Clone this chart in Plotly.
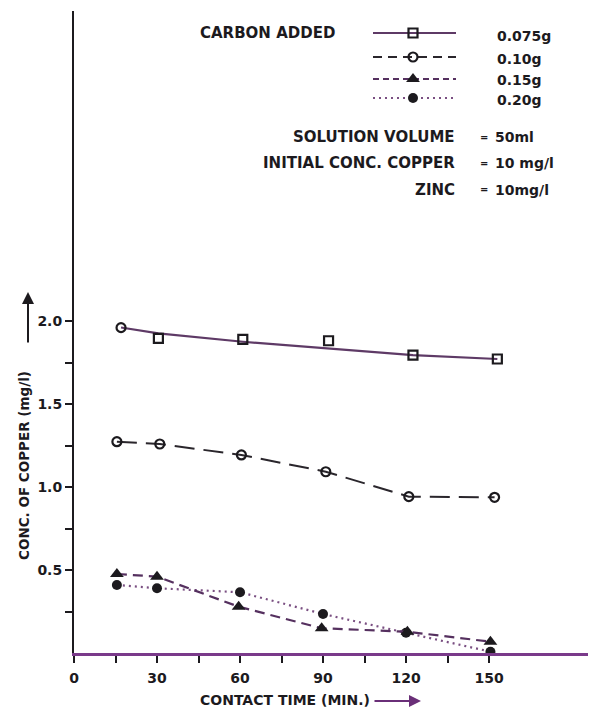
import plotly.graph_objects as go

# ---------------- data ----------------
time_075 = [17, 30.5, 61, 92, 122.5, 153]
cu_075 = [1.96, 1.895, 1.889, 1.881, 1.795, 1.771]
fit_075 = [1.961, 1.925, 1.875, 1.835, 1.795, 1.771]
symbols_075 = ["circle-open", "square-open", "square-open", "square-open", "square-open", "square-open"]

time_010 = [15.5, 31, 60.5, 91, 121, 152]
cu_010 = [1.273, 1.259, 1.193, 1.092, 0.942, 0.938]

time_015 = [15.5, 30, 59.5, 89.5, 120.5, 150.5]
cu_015 = [0.476, 0.46, 0.279, 0.149, 0.128, 0.068]

time_020 = [15.5, 30, 60, 90, 120, 150.5]
cu_020 = [0.41, 0.39, 0.366, 0.235, 0.122, 0.008]

x_tickvals = [0, 15, 30, 45, 60, 75, 90, 105, 120, 135, 150]
x_ticktext = ["0", "", "30", "", "60", "", "90", "", "120", "", "150"]
y_tickvals = [0.25, 0.5, 0.75, 1.0, 1.25, 1.5, 1.75, 2.0]
y_ticktext = ["", "0.5", "", "1.0", "", "1.5", "", "2.0"]

legend_labels = ["0.075g", "0.10g", "0.15g", "0.20g"]
info_keys = ["SOLUTION VOLUME", "INITIAL CONC. COPPER", "ZINC"]
info_vals = ["50ml", "10 mg/l", "10mg/l"]

# ---------------- layout geometry (pixels) ----------------
W, H = 589, 710
PX_L, PX_R, PX_B, PX_T = 74, 588, 653, 11
FONT = "DejaVu Sans"
INK = "#1c1a1e"


def px(xp):
    return (xp - PX_L) / (PX_R - PX_L)


def py(yp):
    return (PX_B - yp) / (PX_B - PX_T)


def tfont(size):
    return dict(family=FONT, size=size, color=INK, weight="bold")


fig = go.Figure()

LINE_075 = "#5e3a66"
LINE_010 = "#2a262c"
LINE_015 = "#55305f"
LINE_020 = "#7a4f82"

# 0.075 g : fitted solid line + open squares
fig.add_trace(go.Scatter(x=time_075, y=fit_075, mode="lines",
                         line=dict(color=LINE_075, width=2.2), showlegend=False))
fig.add_trace(go.Scatter(x=time_075, y=cu_075, mode="markers",
                         marker=dict(symbol=symbols_075, size=9, color=INK,
                                     line=dict(color=INK, width=2.2)),
                         showlegend=False))
# 0.10 g
fig.add_trace(go.Scatter(x=time_010, y=cu_010, mode="lines+markers",
                         line=dict(color=LINE_010, width=2, dash="20px,9px"),
                         marker=dict(symbol="circle-open", size=9, color=INK,
                                     line=dict(color=INK, width=2.2)),
                         showlegend=False))
# 0.20 g
fig.add_trace(go.Scatter(x=time_020, y=cu_020, mode="lines+markers",
                         line=dict(color=LINE_020, width=2.2, dash="2px,4px"),
                         marker=dict(symbol="circle", size=10, color=INK),
                         showlegend=False))
# 0.15 g
fig.add_trace(go.Scatter(x=time_015, y=cu_015, mode="lines+markers",
                         line=dict(color=LINE_015, width=2.2, dash="10px,6px"),
                         marker=dict(symbol="triangle-up", size=12, color=INK),
                         showlegend=False))

# ---------------- legend samples on a pixel-space overlay axis ----------------
leg_y = [33, 57, 79, 98]
leg_styles = [
    dict(line=dict(color=LINE_075, width=2.2), marker=dict(symbol="square-open", size=9, color=INK, line=dict(color=INK, width=2.2))),
    dict(line=dict(color=LINE_010, width=2, dash="9px,6px"), marker=dict(symbol="circle-open", size=9, color=INK, line=dict(color=INK, width=2.2))),
    dict(line=dict(color=LINE_015, width=2.2, dash="6px,4px"), marker=dict(symbol="triangle-up", size=12, color=INK)),
    dict(line=dict(color=LINE_020, width=2.2, dash="2px,4px"), marker=dict(symbol="circle", size=10, color=INK)),
]
for yy, st in zip(leg_y, leg_styles):
    fig.add_trace(go.Scatter(x=[373, 456], y=[yy, yy], mode="lines", line=st["line"],
                             xaxis="x2", yaxis="y2", showlegend=False))
    fig.add_trace(go.Scatter(x=[413], y=[yy], mode="markers", marker=st["marker"],
                             xaxis="x2", yaxis="y2", showlegend=False))

annotations = []
annotations.append(dict(x=px(198), y=py(33), xref="paper", yref="paper", text="CARBON ADDED",
                        showarrow=False, xanchor="left", yanchor="middle", font=tfont(15)))
for lab, yy in zip(legend_labels, [36, 59, 80, 100]):
    annotations.append(dict(x=px(495), y=py(yy), xref="paper", yref="paper", text=lab,
                            showarrow=False, xanchor="left", yanchor="middle", font=tfont(14)))
for k, v, yy in zip(info_keys, info_vals, [137, 163, 190]):
    annotations.append(dict(x=px(457), y=py(yy), xref="paper", yref="paper", text=k,
                            showarrow=False, xanchor="right", yanchor="middle", font=tfont(15)))
    annotations.append(dict(x=px(484), y=py(yy), xref="paper", yref="paper", text="=",
                            showarrow=False, xanchor="center", yanchor="middle", font=tfont(10)))
    annotations.append(dict(x=px(493), y=py(yy), xref="paper", yref="paper", text=v,
                            showarrow=False, xanchor="left", yanchor="middle", font=tfont(14)))

# axis titles
annotations.append(dict(x=px(198), y=py(700), xref="paper", yref="paper", text="CONTACT TIME (MIN.)",
                        showarrow=False, xanchor="left", yanchor="middle", font=tfont(14)))
annotations.append(dict(x=px(421), y=py(701), xref="paper", yref="paper", text="",
                        showarrow=True, ax=-48, ay=0, arrowhead=2, arrowsize=1.2,
                        arrowwidth=2, arrowcolor="#6a2f78"))
annotations.append(dict(x=px(24), y=py(466), xref="paper", yref="paper", text="CONC. OF COPPER (mg/l)",
                        showarrow=False, textangle=-90, xanchor="center", yanchor="middle",
                        font=tfont(13.5)))
annotations.append(dict(x=px(28), y=py(292), xref="paper", yref="paper", text="",
                        showarrow=True, ax=0, ay=52, arrowhead=2, arrowsize=1.2,
                        arrowwidth=2, arrowcolor=INK))

fig.update_layout(
    width=W, height=H,
    margin=dict(l=PX_L, r=W - PX_R, t=PX_T, b=H - PX_B),
    paper_bgcolor="white", plot_bgcolor="white",
    showlegend=False,
    annotations=annotations,
    xaxis=dict(range=[0, (PX_R - PX_L) / 2.767], tickvals=x_tickvals, ticktext=x_ticktext,
               showgrid=False, zeroline=False, showline=True, linecolor="#7a3a8a", linewidth=2.5,
               ticks="outside", ticklen=7, tickwidth=2, tickcolor=INK, ticklabelstandoff=3,
               tickfont=tfont(14)),
    yaxis=dict(range=[0, (PX_B - PX_T) / 166.0], tickvals=y_tickvals, ticktext=y_ticktext,
               showgrid=False, zeroline=False, showline=True, linecolor=INK, linewidth=2,
               ticks="outside", ticklen=7, tickwidth=2, tickcolor=INK,
               tickfont=tfont(14)),
    xaxis2=dict(range=[PX_L, PX_R], overlaying="x", anchor="y2", visible=False),
    yaxis2=dict(range=[PX_B, PX_T], overlaying="y", anchor="x2", visible=False),
)

fig.write_html("out.html")
